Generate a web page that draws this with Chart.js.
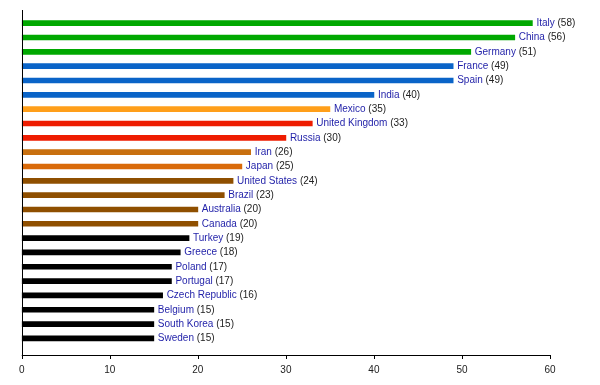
<!DOCTYPE html>
<html>
<head>
<meta charset="utf-8">
<script src="https://cdn.jsdelivr.net/npm/chart.js@4.4.0/dist/chart.umd.min.js"></script>
<style>
  html, body { margin: 0; padding: 0; background: #fff; }
  #wrap { width: 600px; height: 385px; position: relative; }
</style>
</head>
<body>
<div id="wrap"><canvas id="chart"></canvas></div>
<script>
// countries and their values, top to bottom
const countries = ['Italy', 'China', 'Germany', 'France', 'Spain', 'India', 'Mexico', 'United Kingdom',
    'Russia', 'Iran', 'Japan', 'United States', 'Brazil', 'Australia', 'Canada', 'Turkey', 'Greece',
    'Poland', 'Portugal', 'Czech Republic', 'Belgium', 'South Korea', 'Sweden'];
const values = [58, 56, 51, 49, 49, 40, 35, 33, 30, 26, 25, 24, 23, 20, 20, 19, 18, 17, 17, 16, 15, 15, 15];
const barColors = ['#00a800', '#00a800', '#00a800', '#0a64c8', '#0a64c8', '#0a64c8', '#ff9f1a', '#ee1c00',
    '#ee1c00', '#c8700f', '#d96a0a', '#8f4f00', '#8f4f00', '#8f4f00', '#8f4f00', '#000000', '#000000',
    '#000000', '#000000', '#000000', '#000000', '#000000', '#000000'];
const xTicks = [0, 10, 20, 30, 40, 50, 60];

const FONT = '10px "Liberation Sans", Arial, sans-serif';

// axes are drawn by hand: they stick out past the bar area in the original
const axesPlugin = {
    id: 'axes',
    afterDraw(chart) {
        const { ctx, chartArea, scales } = chart;
        const x = scales.x;
        const x0 = x.getPixelForValue(0);
        const axisY = chartArea.bottom + 9.5;
        ctx.save();
        ctx.strokeStyle = '#000';
        ctx.lineWidth = 1;
        ctx.beginPath();
        ctx.moveTo(Math.round(x0) + 0.5, chartArea.top - 6);
        ctx.lineTo(Math.round(x0) + 0.5, axisY);
        ctx.moveTo(x0, Math.round(axisY) + 0.5);
        ctx.lineTo(x.getPixelForValue(60) + 1, Math.round(axisY) + 0.5);
        xTicks.forEach(t => {
            const px = Math.round(x.getPixelForValue(t)) + 0.5;
            ctx.moveTo(px, Math.round(axisY));
            ctx.lineTo(px, Math.round(axisY) + 4);
        });
        ctx.stroke();
        ctx.restore();
    }
};

// "Name (value)" at the end of every bar
const barLabels = {
    id: 'barLabels',
    afterDatasetsDraw(chart) {
        const { ctx } = chart;
        const meta = chart.getDatasetMeta(0);
        ctx.save();
        ctx.font = FONT;
        ctx.textBaseline = 'middle';
        ctx.textAlign = 'left';
        meta.data.forEach((bar, i) => {
            const name = countries[i];
            const sx = bar.x + 4;
            ctx.fillStyle = '#1f1fa8';
            ctx.fillText(name, sx, bar.y);
            const w = ctx.measureText(name).width;
            ctx.fillStyle = '#222';
            ctx.fillText(' (' + values[i] + ')', sx + w, bar.y);
        });
        ctx.restore();
    }
};

new Chart(document.getElementById('chart'), {
    type: 'bar',
    data: {
        labels: countries,
        datasets: [{
            data: values,
            backgroundColor: barColors,
            borderWidth: 0,
            barThickness: 5
        }]
    },
    options: {
        indexAxis: 'y',
        responsive: true,
        maintainAspectRatio: false,
        animation: false,
        layout: { padding: { left: 20, right: 50, top: 16, bottom: 0 } },
        plugins: { legend: { display: false }, tooltip: { enabled: false } },
        scales: {
            x: {
                min: 0,
                max: 60,
                afterBuildTicks: s => { s.ticks = xTicks.map(v => ({ value: v })); },
                afterFit: s => { s.height = 39.4; },
                grid: { display: false, drawTicks: false },
                border: { display: false },
                ticks: { padding: 19, color: '#222', font: { family: '"Liberation Sans", Arial, sans-serif', size: 10 } }
            },
            y: { display: false }
        }
    },
    plugins: [axesPlugin, barLabels]
});
</script>
</body>
</html>
